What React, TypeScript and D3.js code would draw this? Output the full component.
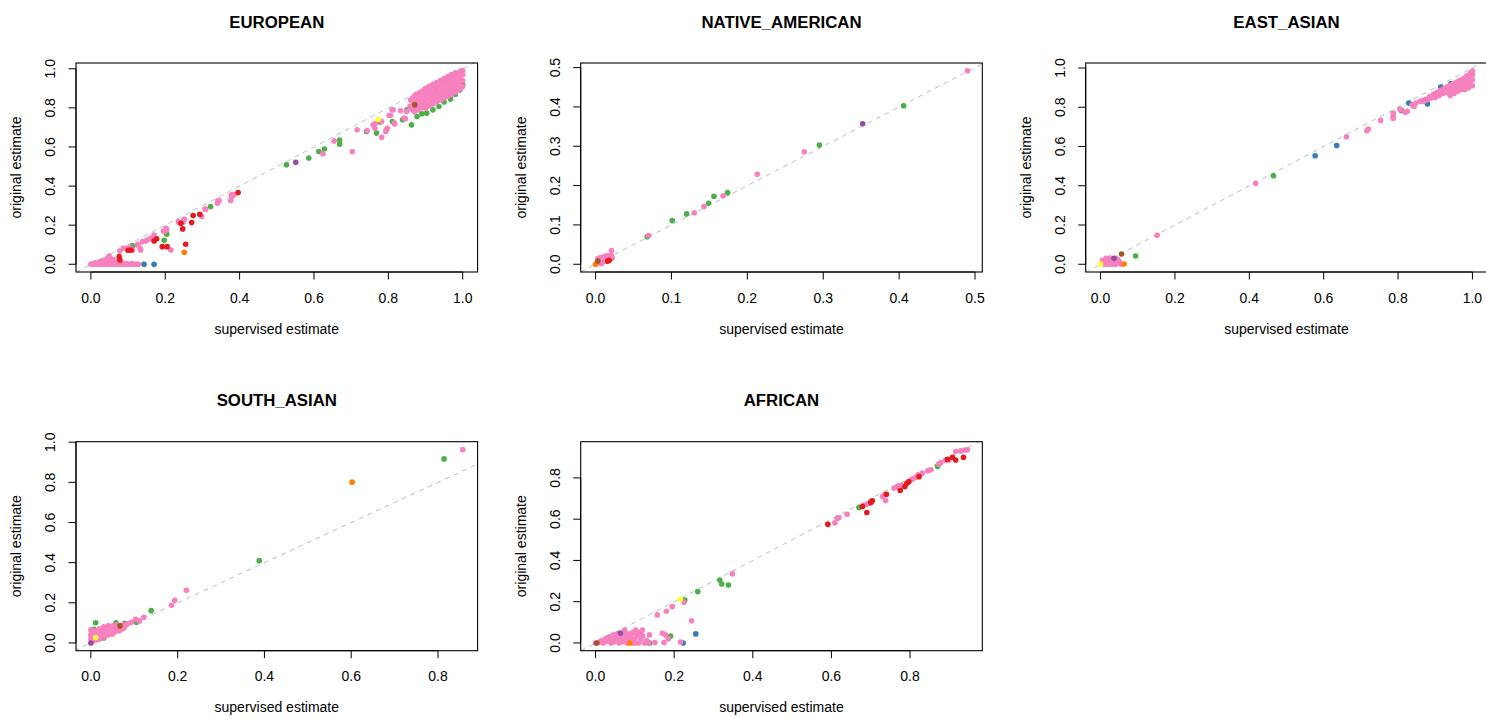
import React from 'react';
import * as d3 from 'd3';

type Pt = [number, number, string];

// group codes: r red, b blue, g green, p purple, o orange, y yellow, n brown, k pink
const GROUP_ORDER = ['g', 'b', 'k', 'r', 'p', 'o', 'n', 'y'];
const GROUP_COLORS: Record<string, string> = {
  r: '#E41A1C', b: '#377EB8', g: '#4DAF4A', p: '#984EA3',
  o: '#FF7F00', y: '#FFFF33', n: '#A65628', k: '#F781BF',
};

const PANEL_TITLES = ['EUROPEAN', 'NATIVE_AMERICAN', 'EAST_ASIAN', 'SOUTH_ASIAN', 'AFRICAN'];
const X_EXTENTS: [number, number][] = [[0, 1], [0, 0.49], [0, 1], [0, 0.857], [0, 0.946]];
const Y_EXTENTS: [number, number][] = [[0, 0.99], [0, 0.492], [0, 0.986], [0, 0.964], [0, 0.938]];
const X_TICKS: number[][] = [
  [0, 0.2, 0.4, 0.6, 0.8, 1.0],
  [0, 0.1, 0.2, 0.3, 0.4, 0.5],
  [0, 0.2, 0.4, 0.6, 0.8, 1.0],
  [0, 0.2, 0.4, 0.6, 0.8],
  [0, 0.2, 0.4, 0.6, 0.8],
];
const Y_TICKS: number[][] = [
  [0, 0.2, 0.4, 0.6, 0.8, 1.0],
  [0, 0.1, 0.2, 0.3, 0.4, 0.5],
  [0, 0.2, 0.4, 0.6, 0.8, 1.0],
  [0, 0.2, 0.4, 0.6, 0.8, 1.0],
  [0, 0.2, 0.4, 0.6, 0.8],
];
const X_LABEL = 'supervised estimate';
const Y_LABEL = 'original estimate';

const EUROPEAN: Pt[] = [
  // pink, y = 0 row
  [0.000, 0, 'k'], [0.008, 0, 'k'], [0.015, 0, 'k'], [0.022, 0, 'k'], [0.030, 0, 'k'], [0.038, 0, 'k'],
  [0.045, 0, 'k'], [0.052, 0, 'k'], [0.060, 0, 'k'], [0.068, 0, 'k'], [0.075, 0, 'k'], [0.082, 0, 'k'],
  [0.090, 0, 'k'], [0.100, 0, 'k'], [0.108, 0, 'k'], [0.115, 0, 'k'], [0.122, 0, 'k'], [0.128, 0, 'k'],
  // pink near origin
  [0.005, 0.004, 'k'], [0.012, 0.008, 'k'], [0.02, 0.006, 'k'], [0.025, 0.012, 'k'], [0.03, 0.018, 'k'],
  [0.035, 0.01, 'k'], [0.04, 0.02, 'k'], [0.045, 0.028, 'k'], [0.05, 0.035, 'k'], [0.055, 0.015, 'k'],
  [0.06, 0.025, 'k'], [0.065, 0.005, 'k'], [0.07, 0.015, 'k'], [0.045, 0.006, 'k'], [0.085, 0.008, 'k'],
  [0.095, 0.004, 'k'], [0.11, 0.003, 'k'],
  // pink lower diagonal
  [0.049, 0.042, 'k'], [0.078, 0.068, 'k'], [0.087, 0.082, 'k'], [0.095, 0.082, 'k'], [0.105, 0.085, 'k'],
  [0.112, 0.072, 'k'], [0.125, 0.099, 'k'], [0.127, 0.102, 'k'], [0.132, 0.082, 'k'], [0.134, 0.073, 'k'],
  [0.139, 0.116, 'k'], [0.148, 0.119, 'k'], [0.152, 0.125, 'k'], [0.159, 0.13, 'k'], [0.161, 0.133, 'k'],
  [0.168, 0.141, 'k'], [0.17, 0.15, 'k'], [0.195, 0.17, 'k'], [0.197, 0.169, 'k'], [0.202, 0.184, 'k'],
  [0.204, 0.176, 'k'], [0.215, 0.073, 'k'], [0.235, 0.218, 'k'], [0.237, 0.213, 'k'], [0.25, 0.227, 'k'],
  [0.252, 0.23, 'k'], [0.249, 0.218, 'k'], [0.298, 0.244, 'k'], [0.307, 0.282, 'k'], [0.309, 0.282, 'k'],
  [0.34, 0.312, 'k'], [0.342, 0.326, 'k'], [0.345, 0.326, 'k'], [0.376, 0.326, 'k'], [0.378, 0.355, 'k'],
  [0.385, 0.355, 'k'], [0.379, 0.346, 'k'],
  // pink middle
  [0.624, 0.565, 'k'], [0.654, 0.631, 'k'], [0.703, 0.577, 'k'], [0.716, 0.688, 'k'], [0.743, 0.683, 'k'],
  [0.759, 0.713, 'k'], [0.764, 0.696, 'k'], [0.765, 0.72, 'k'], [0.782, 0.65, 'k'], [0.782, 0.730, 'k'],
  [0.793, 0.679, 'k'], [0.795, 0.688, 'k'], [0.797, 0.696, 'k'], [0.802, 0.761, 'k'], [0.806, 0.761, 'k'],
  [0.81, 0.79, 'k'], [0.813, 0.790, 'k'], [0.816, 0.722, 'k'], [0.817, 0.718, 'k'], [0.833, 0.785, 'k'],
  [0.842, 0.748, 'k'], [0.846, 0.744, 'k'], [0.849, 0.781, 'k'], [0.858, 0.807, 'k'], [0.871, 0.858, 'k'],
  // pink dense band top right
  [0.86, 0.80, 'k'], [0.86, 0.84, 'k'],
  [0.87, 0.78, 'k'], [0.87, 0.82, 'k'], [0.87, 0.86, 'k'],
  [0.88, 0.79, 'k'], [0.88, 0.83, 'k'], [0.88, 0.87, 'k'],
  [0.89, 0.80, 'k'], [0.89, 0.84, 'k'], [0.89, 0.88, 'k'],
  [0.90, 0.80, 'k'], [0.90, 0.84, 'k'], [0.90, 0.88, 'k'], [0.90, 0.90, 'k'],
  [0.91, 0.81, 'k'], [0.91, 0.85, 'k'], [0.91, 0.89, 'k'], [0.91, 0.91, 'k'],
  [0.92, 0.82, 'k'], [0.92, 0.86, 'k'], [0.92, 0.89, 'k'], [0.92, 0.92, 'k'],
  [0.93, 0.83, 'k'], [0.93, 0.86, 'k'], [0.93, 0.90, 'k'], [0.93, 0.93, 'k'],
  [0.94, 0.84, 'k'], [0.94, 0.87, 'k'], [0.94, 0.91, 'k'], [0.94, 0.94, 'k'],
  [0.95, 0.85, 'k'], [0.95, 0.88, 'k'], [0.95, 0.92, 'k'], [0.95, 0.95, 'k'],
  [0.96, 0.86, 'k'], [0.96, 0.89, 'k'], [0.96, 0.93, 'k'], [0.96, 0.96, 'k'],
  [0.97, 0.87, 'k'], [0.97, 0.90, 'k'], [0.97, 0.94, 'k'], [0.97, 0.97, 'k'],
  [0.98, 0.88, 'k'], [0.98, 0.91, 'k'], [0.98, 0.95, 'k'], [0.98, 0.98, 'k'],
  [0.99, 0.89, 'k'], [0.99, 0.92, 'k'], [0.99, 0.95, 'k'], [0.99, 0.98, 'k'],
  [1.00, 0.91, 'k'], [1.00, 0.94, 'k'], [1.00, 0.97, 'k'], [1.00, 0.99, 'k'],
  [0.865, 0.79, 'k'], [0.865, 0.82, 'k'], [0.865, 0.85, 'k'],
  [0.875, 0.80, 'k'], [0.875, 0.84, 'k'], [0.875, 0.87, 'k'],
  [0.885, 0.81, 'k'], [0.885, 0.85, 'k'], [0.885, 0.88, 'k'],
  [0.895, 0.82, 'k'], [0.895, 0.86, 'k'], [0.895, 0.89, 'k'],
  [0.905, 0.82, 'k'], [0.905, 0.86, 'k'], [0.905, 0.895, 'k'],
  [0.915, 0.83, 'k'], [0.915, 0.87, 'k'], [0.915, 0.90, 'k'],
  [0.925, 0.84, 'k'], [0.925, 0.875, 'k'], [0.925, 0.91, 'k'],
  [0.935, 0.85, 'k'], [0.935, 0.88, 'k'], [0.935, 0.915, 'k'],
  [0.945, 0.855, 'k'], [0.945, 0.89, 'k'], [0.945, 0.925, 'k'],
  [0.955, 0.865, 'k'], [0.955, 0.90, 'k'], [0.955, 0.935, 'k'],
  [0.965, 0.875, 'k'], [0.965, 0.915, 'k'], [0.965, 0.95, 'k'],
  [0.975, 0.885, 'k'], [0.975, 0.925, 'k'], [0.975, 0.96, 'k'],
  [0.985, 0.895, 'k'], [0.985, 0.935, 'k'], [0.985, 0.965, 'k'],
  [0.995, 0.905, 'k'], [0.995, 0.945, 'k'], [0.995, 0.975, 'k'], [0.995, 0.99, 'k'],
  // green
  [0.112, 0.094, 'g'], [0.197, 0.123, 'g'], [0.204, 0.154, 'g'], [0.322, 0.295, 'g'], [0.526, 0.509, 'g'],
  [0.586, 0.543, 'g'], [0.613, 0.577, 'g'], [0.628, 0.590, 'g'], [0.669, 0.636, 'g'], [0.669, 0.614, 'g'],
  [0.741, 0.679, 'g'], [0.768, 0.671, 'g'], [0.777, 0.728, 'g'], [0.811, 0.730, 'g'], [0.838, 0.739, 'g'],
  [0.850, 0.790, 'g'], [0.862, 0.713, 'g'], [0.867, 0.819, 'g'], [0.876, 0.858, 'g'], [0.877, 0.756, 'g'],
  [0.903, 0.773, 'g'], [0.936, 0.807, 'g'], [0.950, 0.83, 'g'], [0.967, 0.845, 'g'], [0.980, 0.87, 'g'],
  [0.992, 0.892, 'g'], [1.0, 0.918, 'g'], [0.92, 0.79, 'g'], [0.89, 0.77, 'g'],
  // red
  [0.076, 0.039, 'r'], [0.078, 0.022, 'r'], [0.10, 0.072, 'r'], [0.108, 0.073, 'r'], [0.17, 0.119, 'r'],
  [0.177, 0.13, 'r'], [0.192, 0.09, 'r'], [0.205, 0.09, 'r'], [0.242, 0.21, 'r'], [0.247, 0.181, 'r'],
  [0.255, 0.102, 'r'], [0.271, 0.213, 'r'], [0.275, 0.249, 'r'], [0.293, 0.256, 'r'], [0.396, 0.367, 'r'],
  // others
  [0.143, 0, 'b'], [0.17, 0, 'b'],
  [0.251, 0.061, 'o'],
  [0.551, 0.522, 'p'],
  [0.773, 0.742, 'y'],
  [0.871, 0.816, 'n'],
];

const NATIVE_AMERICAN: Pt[] = [
  [0.49, 0.492, 'k'], [0.275, 0.286, 'k'], [0.213, 0.229, 'k'], [0.168, 0.174, 'k'], [0.143, 0.147, 'k'],
  [0.130, 0.131, 'k'], [0.070, 0.073, 'k'], [0.021, 0.035, 'k'],
  [0.002, 0.005, 'k'], [0.004, 0.012, 'k'], [0.006, 0.01, 'k'], [0.008, 0.018, 'k'], [0.01, 0.014, 'k'],
  [0.012, 0.02, 'k'], [0.014, 0.016, 'k'], [0.016, 0.022, 'k'], [0.018, 0.018, 'k'], [0.02, 0.02, 'k'],
  [0.022, 0.016, 'k'], [0.006, 0.003, 'k'], [0.01, 0.006, 'k'], [0.012, 0.01, 'k'], [0.008, 0.002, 'k'],
  [0.005, 0.016, 'k'], [0.003, 0.014, 'k'], [0.014, 0.008, 'k'], [0.019, 0.012, 'k'], [0.021, 0.022, 'k'],
  [0.406, 0.403, 'g'], [0.295, 0.303, 'g'], [0.174, 0.182, 'g'], [0.156, 0.173, 'g'], [0.149, 0.155, 'g'],
  [0.120, 0.128, 'g'], [0.101, 0.111, 'g'], [0.068, 0.070, 'g'],
  [0.352, 0.357, 'p'],
  [0.016, 0.008, 'r'], [0.018, 0.01, 'r'],
  [0.003, 0.008, 'n'],
  [0.0, 0.0, 'o'],
];

const EAST_ASIAN: Pt[] = [
  [0.152, 0.148, 'k'], [0.417, 0.412, 'k'], [0.661, 0.650, 'k'], [0.716, 0.680, 'k'], [0.72, 0.689, 'k'],
  [0.753, 0.733, 'k'], [0.787, 0.753, 'k'], [0.787, 0.770, 'k'], [0.787, 0.743, 'k'], [0.805, 0.791, 'k'],
  [0.807, 0.787, 'k'], [0.819, 0.774, 'k'], [0.825, 0.779, 'k'], [0.838, 0.81, 'k'], [0.839, 0.813, 'k'],
  [0.843, 0.804, 'k'], [0.848, 0.821, 'k'],
  [0.86, 0.83, 'k'], [0.87, 0.83, 'k'], [0.88, 0.84, 'k'], [0.89, 0.85, 'k'], [0.90, 0.85, 'k'],
  [0.90, 0.87, 'k'], [0.91, 0.86, 'k'], [0.91, 0.88, 'k'], [0.92, 0.87, 'k'], [0.92, 0.89, 'k'],
  [0.93, 0.88, 'k'], [0.93, 0.90, 'k'], [0.94, 0.86, 'k'], [0.94, 0.89, 'k'], [0.94, 0.91, 'k'],
  [0.95, 0.87, 'k'], [0.95, 0.90, 'k'], [0.95, 0.92, 'k'], [0.96, 0.88, 'k'], [0.96, 0.91, 'k'],
  [0.96, 0.93, 'k'], [0.97, 0.89, 'k'], [0.97, 0.92, 'k'], [0.97, 0.94, 'k'], [0.98, 0.89, 'k'],
  [0.98, 0.92, 'k'], [0.98, 0.95, 'k'], [0.99, 0.90, 'k'], [0.99, 0.93, 'k'], [0.99, 0.96, 'k'],
  [1.0, 0.91, 'k'], [1.0, 0.94, 'k'], [1.0, 0.965, 'k'], [1.0, 0.985, 'k'], [0.995, 0.975, 'k'],
  [0.985, 0.96, 'k'],
  [0.865, 0.835, 'k'], [0.875, 0.84, 'k'], [0.885, 0.845, 'k'], [0.885, 0.855, 'k'], [0.895, 0.855, 'k'],
  [0.895, 0.865, 'k'], [0.905, 0.86, 'k'], [0.905, 0.875, 'k'], [0.915, 0.87, 'k'], [0.915, 0.885, 'k'],
  [0.925, 0.875, 'k'], [0.925, 0.895, 'k'], [0.935, 0.875, 'k'], [0.935, 0.89, 'k'], [0.935, 0.905, 'k'],
  [0.945, 0.88, 'k'], [0.945, 0.90, 'k'], [0.945, 0.915, 'k'], [0.955, 0.885, 'k'], [0.955, 0.905, 'k'],
  [0.955, 0.925, 'k'], [0.965, 0.89, 'k'], [0.965, 0.915, 'k'], [0.965, 0.935, 'k'], [0.975, 0.90, 'k'],
  [0.975, 0.925, 'k'], [0.975, 0.945, 'k'], [0.985, 0.905, 'k'], [0.985, 0.93, 'k'], [0.985, 0.95, 'k'],
  [0.995, 0.915, 'k'], [0.995, 0.94, 'k'], [0.995, 0.96, 'k'],
  [0.005, 0.01, 'k'], [0.01, 0.02, 'k'], [0.015, 0.015, 'k'], [0.02, 0.025, 'k'], [0.025, 0.02, 'k'],
  [0.03, 0.025, 'k'], [0.035, 0.02, 'k'], [0.04, 0.015, 'k'], [0.045, 0.01, 'k'], [0.05, 0.005, 'k'],
  [0.055, 0.0, 'k'], [0.01, 0.0, 'k'], [0.02, 0.0, 'k'], [0.03, 0.0, 'k'], [0.04, 0.0, 'k'],
  [0.05, 0.015, 'k'], [0.02, 0.01, 'k'], [0.03, 0.01, 'k'], [0.005, 0.02, 'k'], [0.015, 0.03, 'k'],
  [0.025, 0.032, 'k'], [0.045, 0.025, 'k'], [0.04, 0.03, 'k'],
  [0.577, 0.553, 'b'], [0.635, 0.605, 'b'], [0.809, 0.784, 'b'], [0.829, 0.821, 'b'], [0.879, 0.816, 'b'],
  [0.915, 0.903, 'b'], [0.942, 0.920, 'b'],
  [0.465, 0.451, 'g'], [0.094, 0.042, 'g'],
  [0.036, 0.030, 'p'],
  [0.0565, 0.0526, 'n'],
  [0.063, 0.001, 'o'],
  [0.0, 0.001, 'y'],
];

const SOUTH_ASIAN: Pt[] = [
  [0.857, 0.963, 'k'], [0.220, 0.262, 'k'], [0.193, 0.213, 'k'], [0.186, 0.188, 'k'], [0.122, 0.128, 'k'],
  [0.103, 0.118, 'k'], [0.112, 0.11, 'k'], [0.093, 0.103, 'k'], [0.084, 0.095, 'k'],
  [0.0, 0.065, 'k'], [0.0, 0.04, 'k'], [0.0, 0.02, 'k'], [0.005, 0.05, 'k'], [0.005, 0.01, 'k'],
  [0.01, 0.06, 'k'], [0.01, 0.04, 'k'], [0.012, 0.015, 'k'], [0.015, 0.055, 'k'], [0.015, 0.03, 'k'],
  [0.02, 0.07, 'k'], [0.02, 0.045, 'k'], [0.02, 0.02, 'k'], [0.025, 0.06, 'k'], [0.025, 0.035, 'k'],
  [0.03, 0.08, 'k'], [0.03, 0.05, 'k'], [0.03, 0.03, 'k'], [0.035, 0.07, 'k'], [0.035, 0.045, 'k'],
  [0.04, 0.085, 'k'], [0.04, 0.06, 'k'], [0.04, 0.04, 'k'], [0.045, 0.075, 'k'], [0.045, 0.05, 'k'],
  [0.05, 0.085, 'k'], [0.05, 0.065, 'k'], [0.05, 0.045, 'k'], [0.055, 0.08, 'k'], [0.055, 0.055, 'k'],
  [0.06, 0.09, 'k'], [0.06, 0.07, 'k'], [0.065, 0.075, 'k'], [0.065, 0.06, 'k'], [0.07, 0.085, 'k'],
  [0.072, 0.07, 'k'], [0.075, 0.09, 'k'], [0.078, 0.08, 'k'],
  [0.814, 0.917, 'g'], [0.388, 0.410, 'g'], [0.139, 0.161, 'g'], [0.105, 0.103, 'g'], [0.078, 0.098, 'g'],
  [0.058, 0.101, 'g'], [0.011, 0.101, 'g'], [0.007, 0.068, 'g'], [0.03, 0.025, 'g'], [0.075, 0.075, 'g'],
  [0.602, 0.801, 'o'],
  [0.067, 0.085, 'n'],
  [0.011, 0.027, 'y'],
  [0.0, 0.0, 'p'],
];

const AFRICAN: Pt[] = [
  [0.946, 0.936, 'k'], [0.94, 0.935, 'k'], [0.929, 0.931, 'k'], [0.916, 0.928, 'k'], [0.899, 0.887, 'k'],
  [0.89, 0.885, 'k'], [0.878, 0.874, 'k'], [0.873, 0.868, 'k'], [0.853, 0.839, 'k'], [0.845, 0.835, 'k'],
  [0.831, 0.823, 'k'], [0.82, 0.815, 'k'], [0.814, 0.803, 'k'], [0.806, 0.794, 'k'], [0.780, 0.766, 'k'],
  [0.77, 0.762, 'k'], [0.759, 0.750, 'k'], [0.765, 0.755, 'k'], [0.734, 0.718, 'k'], [0.730, 0.710, 'k'],
  [0.738, 0.690, 'k'], [0.696, 0.677, 'k'], [0.690, 0.672, 'k'], [0.683, 0.669, 'k'], [0.640, 0.624, 'k'],
  [0.619, 0.608, 'k'], [0.615, 0.605, 'k'], [0.609, 0.583, 'k'],
  [0.348, 0.335, 'k'], [0.225, 0.197, 'k'], [0.195, 0.176, 'k'], [0.180, 0.154, 'k'], [0.157, 0.136, 'k'],
  [0.244, 0.108, 'k'], [0.216, 0.005, 'k'], [0.170, 0.047, 'k'], [0.178, 0.039, 'k'], [0.185, 0.02, 'k'],
  [0.174, 0.002, 'k'], [0.151, 0.002, 'k'], [0.137, 0.039, 'k'], [0.119, 0.063, 'k'], [0.102, 0.063, 'k'],
  [0.074, 0.063, 'k'],
  [0.0, 0.0, 'k'], [0.01, 0.005, 'k'], [0.015, 0.012, 'k'], [0.02, 0.0, 'k'], [0.025, 0.02, 'k'],
  [0.03, 0.008, 'k'], [0.035, 0.03, 'k'], [0.04, 0.0, 'k'], [0.04, 0.018, 'k'], [0.045, 0.04, 'k'],
  [0.05, 0.01, 'k'], [0.05, 0.028, 'k'], [0.055, 0.045, 'k'], [0.06, 0.0, 'k'], [0.06, 0.02, 'k'],
  [0.065, 0.035, 'k'], [0.07, 0.01, 'k'], [0.07, 0.045, 'k'], [0.075, 0.025, 'k'], [0.08, 0.0, 'k'],
  [0.08, 0.04, 'k'], [0.085, 0.015, 'k'], [0.09, 0.03, 'k'], [0.095, 0.0, 'k'], [0.095, 0.05, 'k'],
  [0.1, 0.018, 'k'], [0.105, 0.035, 'k'], [0.11, 0.0, 'k'], [0.11, 0.05, 'k'], [0.115, 0.02, 'k'],
  [0.12, 0.035, 'k'], [0.125, 0.0, 'k'], [0.13, 0.012, 'k'], [0.135, 0.0, 'k'], [0.02, 0.01, 'k'],
  [0.03, 0.025, 'k'], [0.045, 0.005, 'k'], [0.055, 0.015, 'k'], [0.065, 0.005, 'k'], [0.085, 0.045, 'k'],
  [0.1, 0.0, 'k'], [0.115, 0.045, 'k'], [0.045, 0.022, 'k'],
  [0.936, 0.900, 'r'], [0.916, 0.887, 'r'], [0.908, 0.900, 'r'], [0.895, 0.890, 'r'], [0.823, 0.806, 'r'],
  [0.797, 0.782, 'r'], [0.792, 0.774, 'r'], [0.787, 0.758, 'r'], [0.775, 0.739, 'r'], [0.740, 0.721, 'r'],
  [0.704, 0.689, 'r'], [0.700, 0.680, 'r'], [0.690, 0.632, 'r'], [0.679, 0.661, 'r'], [0.591, 0.575, 'r'],
  [0.870, 0.855, 'g'], [0.775, 0.747, 'g'], [0.670, 0.656, 'g'], [0.338, 0.281, 'g'], [0.321, 0.286, 'g'],
  [0.316, 0.305, 'g'], [0.260, 0.249, 'g'], [0.227, 0.208, 'g'], [0.191, 0.034, 'g'], [0.138, 0.0, 'g'],
  [0.255, 0.044, 'b'], [0.223, 0.0, 'b'],
  [0.216, 0.212, 'y'],
  [0.063, 0.048, 'p'],
  [0.087, 0.0, 'o'],
  [0.003, 0.0, 'n'],
];

const PANEL_POINTS: Pt[][] = [EUROPEAN, NATIVE_AMERICAN, EAST_ASIAN, SOUTH_ASIAN, AFRICAN];

// layout (pixels)
const BOX_POS = [
  { left: 76, top: 63 },
  { left: 580.7, top: 63 },
  { left: 1085.7, top: 63 },
  { left: 76, top: 441.7 },
  { left: 580.7, top: 441.7 },
];
const BOX_W = 401.6;
const BOX_H = 209;
const FONT = '"Liberation Sans", Arial, Helvetica, sans-serif';
const TICK_LEN = 7.5;
const R = 2.8;

function pad(ext: [number, number]): [number, number] {
  const d = ext[1] - ext[0];
  return [ext[0] - 0.04 * d, ext[1] + 0.04 * d];
}

function fmt(v: number) {
  return v.toFixed(1);
}

function Panel({ i }: { i: number }) {
  const { left, top } = BOX_POS[i];
  const xd = pad(X_EXTENTS[i]);
  const yd = pad(Y_EXTENTS[i]);
  const x = d3.scaleLinear().domain(xd).range([left, left + BOX_W]);
  const y = d3.scaleLinear().domain(yd).range([top + BOX_H, top]);
  const bottom = top + BOX_H;
  const cx = left + BOX_W / 2;
  const cy = top + BOX_H / 2;
  const lo = Math.min(xd[0], yd[0]);
  const hi = Math.max(xd[1], yd[1]);
  const pts = [...PANEL_POINTS[i]].sort(
    (a, b) => GROUP_ORDER.indexOf(a[2]) - GROUP_ORDER.indexOf(b[2])
  );
  const clipId = `clip-${i}`;
  const xt = X_TICKS[i];
  const yt = Y_TICKS[i];
  return (
    <g>
      <defs>
        <clipPath id={clipId}>
          <rect x={left} y={top} width={BOX_W} height={BOX_H} />
        </clipPath>
      </defs>
      <text x={cx} y={top - 35.5} textAnchor="middle" fontFamily={FONT} fontWeight="bold" fontSize={16.8} fill="#000">
        {PANEL_TITLES[i]}
      </text>
      <line
        x1={x(lo)} y1={y(lo)} x2={x(hi)} y2={y(hi)}
        stroke="#BEBEBE" strokeWidth={1} strokeDasharray="5,4.5" clipPath={`url(#${clipId})`}
      />
      <g clipPath={`url(#${clipId})`}>
        {pts.map((p, j) => (
          <circle key={j} cx={x(p[0])} cy={y(p[1])} r={R} fill={GROUP_COLORS[p[2]]} />
        ))}
      </g>
      <rect x={left} y={top} width={BOX_W} height={BOX_H} fill="none" stroke="#000" strokeWidth={1.1} />
      {/* x axis */}
      <line x1={x(xt[0])} x2={x(xt[xt.length - 1])} y1={bottom} y2={bottom} stroke="#000" strokeWidth={1} />
      {xt.map((t) => (
        <g key={`xt${t}`}>
          <line x1={x(t)} x2={x(t)} y1={bottom} y2={bottom + TICK_LEN} stroke="#000" strokeWidth={1} />
          <text x={x(t)} y={bottom + 30.5} textAnchor="middle" fontFamily={FONT} fontSize={14} fill="#000">
            {fmt(t)}
          </text>
        </g>
      ))}
      {/* y axis */}
      <line x1={left} x2={left} y1={y(yt[0])} y2={y(yt[yt.length - 1])} stroke="#000" strokeWidth={1} />
      {yt.map((t) => (
        <g key={`yt${t}`}>
          <line x1={left} x2={left - TICK_LEN} y1={y(t)} y2={y(t)} stroke="#000" strokeWidth={1} />
          <text
            transform={`translate(${left - 21},${y(t)}) rotate(-90)`}
            textAnchor="middle" fontFamily={FONT} fontSize={14} fill="#000"
          >
            {fmt(t)}
          </text>
        </g>
      ))}
      <text x={cx} y={bottom + 61.5} textAnchor="middle" fontFamily={FONT} fontSize={14} fill="#000">
        {X_LABEL}
      </text>
      <text
        transform={`translate(${left - 55},${cy}) rotate(-90)`}
        textAnchor="middle" fontFamily={FONT} fontSize={14} fill="#000"
      >
        {Y_LABEL}
      </text>
    </g>
  );
}

export default function App() {
  return (
    <svg
      width={1486}
      height={717}
      style={{ position: 'absolute', left: 0, top: 0, background: '#fff' }}
    >
      <rect x={0} y={0} width={1486} height={717} fill="#fff" />
      {PANEL_TITLES.map((_, i) => (
        <Panel key={i} i={i} />
      ))}
    </svg>
  );
}
